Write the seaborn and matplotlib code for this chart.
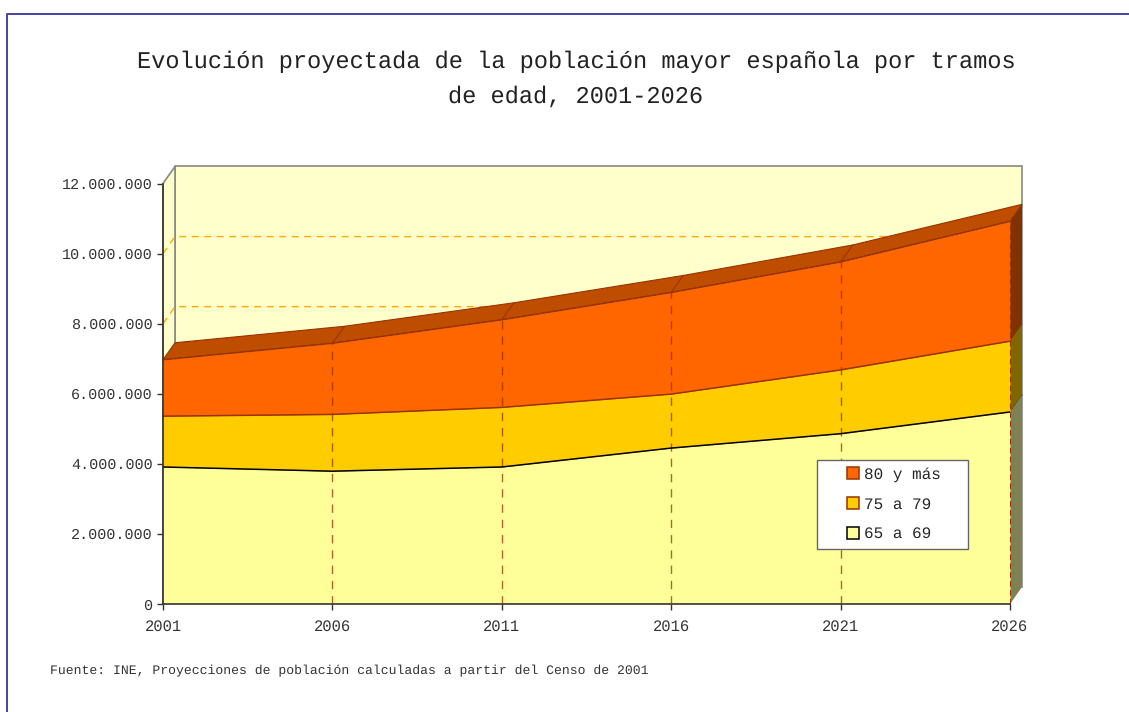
import numpy as np
import pandas as pd
import matplotlib
matplotlib.use("Agg")
import matplotlib.pyplot as plt
from matplotlib.lines import Line2D
from matplotlib.patches import Patch, Polygon, Rectangle
from matplotlib.legend_handler import HandlerPatch
import seaborn as sns

anios = [2001, 2006, 2011, 2016, 2021, 2026]
tramo_65 = [3910000, 3790000, 3910000, 4450000, 4860000, 5480000]
tramo_75 = [1450000, 1620000, 1700000, 1540000, 1820000, 2020000]
tramo_80 = [1610000, 2030000, 2500000, 2900000, 3080000, 3420000]
nombres = ["65 a 69", "75 a 79", "80 y más"]
titulo = "Evolución proyectada de la población mayor española por tramos\nde edad, 2001-2026"
fuente = "Fuente: INE, Proyecciones de población calculadas a partir del Censo de 2001"
yticks = [0, 2000000, 4000000, 6000000, 8000000, 10000000, 12000000]
ylabels = ["0", "2.000.000", "4.000.000", "6.000.000", "8.000.000", "10.000.000", "12.000.000"]

W, H = 1129, 712
FONT = "Liberation Mono"
sns.set_theme(style="white")
plt.rcParams["font.family"] = [FONT, "DejaVu Sans"]
plt.rcParams["text.hinting"] = "no_hinting"

fig = plt.figure(figsize=(W / 100, H / 100), dpi=100, facecolor="white")
L, R, T, B = 163, 1010, 183.5, 604
ax = fig.add_axes([L / W, 1 - B / H, (R - L) / W, (B - T) / H])
ax.set_xlim(anios[0], anios[-1])
ax.set_ylim(0, 12000000)
ax.patch.set_visible(False)

# 3D offset in data units
DX = 12 / (R - L) * (anios[-1] - anios[0])
DY = 17 / (B - T) * 12000000
x0, x1 = anios[0], anios[-1]
ymax = yticks[-1]

# Frame of the page
fig.add_artist(Line2D([7 / W, 7 / W, 1], [0, 1 - 14 / H, 1 - 14 / H], color="#4444AA", lw=1.4))

def poly(pts, fc, ec="none", z=1, lw=0.8):
    ax.add_patch(Polygon(pts, closed=True, facecolor=fc, edgecolor=ec, lw=lw, zorder=z, clip_on=False))

# Walls
poly([(x0 + DX, DY), (x1 + DX, DY), (x1 + DX, ymax + DY), (x0 + DX, ymax + DY)], "#FFFFCC", "#888888", 1, 1.2)
poly([(x0, 0), (x0 + DX, DY), (x0 + DX, ymax + DY), (x0, ymax)], "#FFFFCC", "#888888", 1, 1.2)

# Grid on the walls
for v in yticks[1:-1]:
    ax.plot([x0, x0 + DX, x1 + DX], [v, v + DY, v + DY], color="#FFAA00", lw=1,
            dashes=(5, 4), zorder=2, clip_on=False)

s1 = np.array(tramo_65, float)
s2 = s1 + np.array(tramo_75, float)
s3 = s2 + np.array(tramo_80, float)
xs = np.array(anios, float)
base = np.zeros_like(s1)

fills = ["#FFFF99", "#FFCC00", "#FF6600"]
tops = ["#808055", "#BF9900", "#BF4D00"]
sides = ["#808055", "#806600", "#803300"]
edges = ["#000000", "#993300", "#993300"]
levels = [(base, s1), (s1, s2), (s2, s3)]

# Depth faces (drawn back to front, lower bands first)
for i, (lo, hi) in enumerate(levels):
    top_pts = list(zip(xs, hi)) + list(zip(xs[::-1] + DX, hi[::-1] + DY))
    poly(top_pts, tops[i], edges[i], 3 + i * 0.1)
    for xv, yv in zip(xs[1:-1], hi[1:-1]):
        ax.plot([xv, xv + DX], [yv, yv + DY], color=edges[i], lw=0.8, zorder=3.05 + i * 0.1, clip_on=False)
    poly([(x1, lo[-1]), (x1 + DX, lo[-1] + DY), (x1 + DX, hi[-1] + DY), (x1, hi[-1])],
         sides[i], "none", 3.06 + i * 0.1)

# Front areas
for i, (lo, hi) in enumerate(levels):
    ax.fill_between(xs, lo, hi, color=fills[i], lw=0, zorder=4)

# Vertical dashed lines
for xv, yv in zip(xs[1:-1], s3[1:-1]):
    ax.plot([xv, xv], [0, yv], color="#993300", alpha=0.75, lw=1, dashes=(6, 5), zorder=4.5)
ax.plot([x1, x1], [0, s3[-1]], color="#993300", lw=0.8, dashes=(5, 3), zorder=4.5, clip_on=False)

# Boundary lines via seaborn
df = pd.DataFrame({
    "anio": anios * 3,
    "acumulado": np.concatenate([s1, s2, s3]),
    "tramo": sum([[n] * len(anios) for n in nombres], []),
})
sns.lineplot(data=df, x="anio", y="acumulado", hue="tramo", palette=dict(zip(nombres, edges)),
             legend=False, lw=1.1, ax=ax, zorder=5, estimator=None)
ax.set_xlabel("")
ax.set_ylabel("")

# Axes
ax.set_xticks(anios)
ax.set_xticklabels([str(a) for a in anios])
ax.set_yticks(yticks)
ax.set_yticklabels(ylabels)
ax.tick_params(axis="y", length=4.3, width=1, color="#333333", labelcolor="#333333",
               labelsize=10.9, left=True, pad=3.2)
ax.tick_params(axis="x", length=4.3, width=1, color="#333333", labelcolor="#333333",
               labelsize=11.2, bottom=True, pad=7.0)
for sp in ["top", "right"]:
    ax.spines[sp].set_visible(False)
for sp in ["left", "bottom"]:
    ax.spines[sp].set_visible(True)
    ax.spines[sp].set_color("#333333")
    ax.spines[sp].set_linewidth(1.2)
    ax.spines[sp].set_zorder(6)

# Legend
class Sq(HandlerPatch):
    def create_artists(self, legend, orig, xd, yd, width, height, fontsize, trans):
        s = 8.6
        r = Rectangle((width - s - xd, height / 2 - s / 2 - yd), s, s, facecolor=orig.get_facecolor(),
                      edgecolor=orig.get_edgecolor(), lw=1.1, transform=trans)
        return [r]

handles = [Patch(facecolor=fills[i], edgecolor=edges[i]) for i in (2, 1, 0)]
labels = [nombres[i] for i in (2, 1, 0)]
bx = (817 - L) / (R - L)
by = (B - 549) / (B - T)
bw = (968 - 817) / (R - L)
bh = (549 - 460) / (B - T)
leg = ax.legend(handles, labels, loc="upper left", bbox_to_anchor=(bx, by, bw, bh), mode="expand",
                borderaxespad=0, borderpad=0.45, fontsize=11.5, labelspacing=0.93,
                handlelength=2.2, handletextpad=0.3, fancybox=False, framealpha=1,
                edgecolor="#666666", facecolor="white",
                handler_map={Patch: Sq()})
leg.set_zorder(7)
leg.get_frame().set_linewidth(1)

# Title and source
fig.text(576 / W, 1 - 79 / H, titulo, ha="center", va="center", fontsize=17, color="#222222",
         family=FONT, linespacing=1.7)
fig.text(50 / W, 1 - 671 / H, fuente, ha="left", va="center", fontsize=9.45, color="#333333", family=FONT)

fig.savefig("out.png", dpi=100, facecolor="white")
